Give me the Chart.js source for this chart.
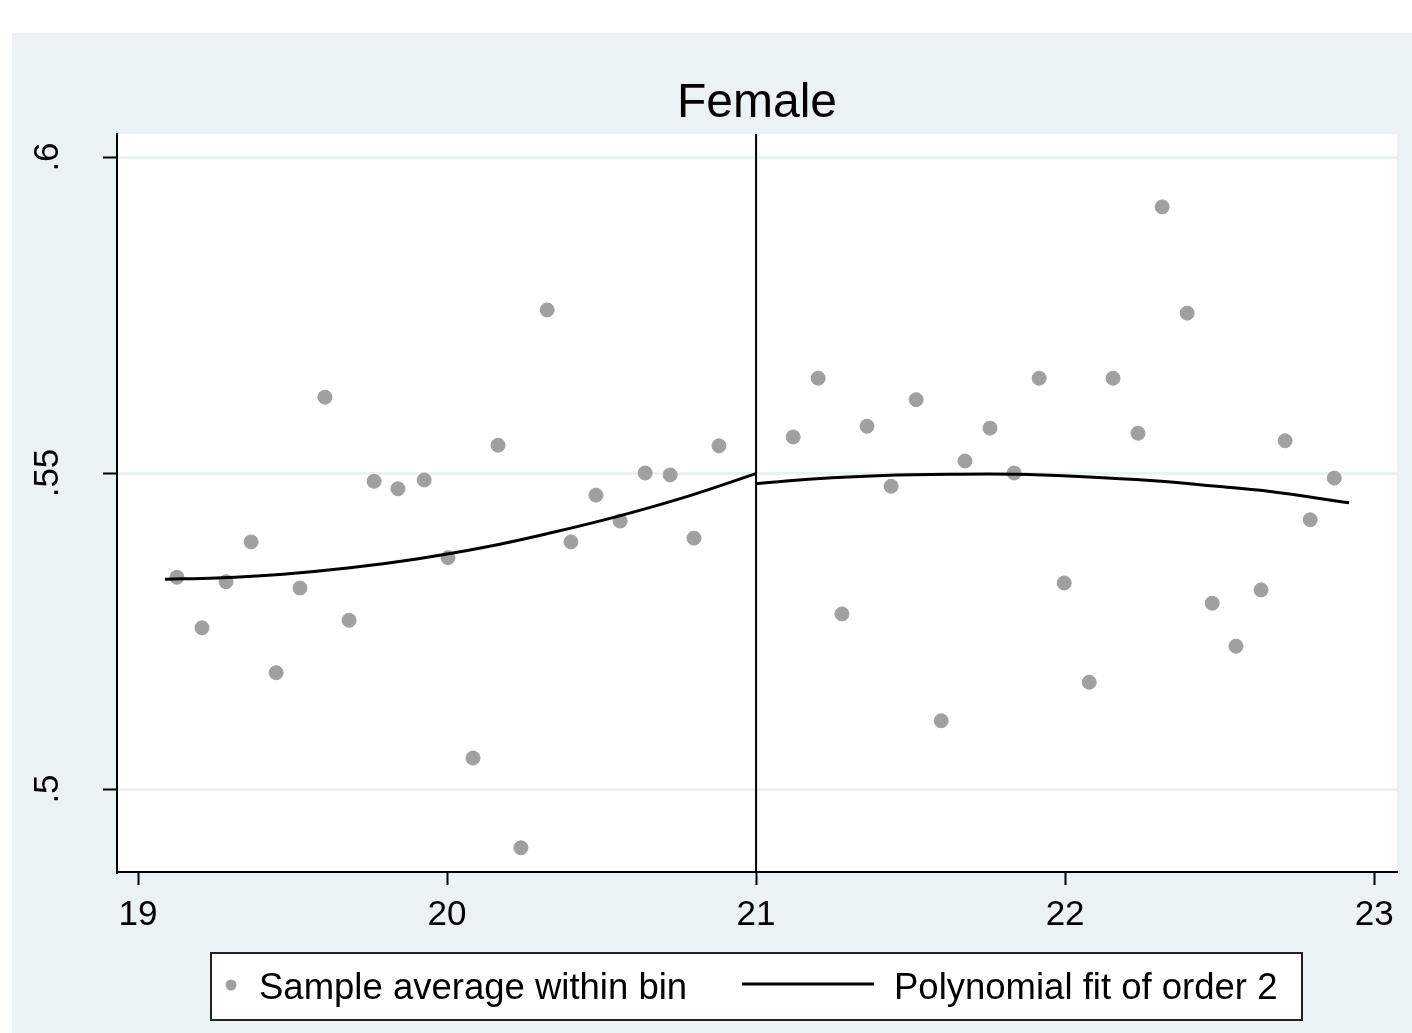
<!DOCTYPE html>
<html>
<head>
  <title>Female</title>
  <script src="https://cdn.jsdelivr.net/npm/chart.js"></script>
  <style>
    html, body { margin: 0; padding: 0; background: #fff; }
  </style>
</head>
<body>
  <canvas id="chart" width="1412" height="1033"></canvas>

  <script>
    // Sample averages within bin, left of the cutoff
    const leftBinX = [19.126, 19.207, 19.285, 19.366, 19.447, 19.524, 19.605, 19.683, 19.764, 19.841, 19.926, 20.003,
                      20.084, 20.165, 20.239, 20.324, 20.401, 20.482, 20.560, 20.641, 20.722, 20.799, 20.880];
    const leftBinY = [0.5335, 0.5255, 0.5328, 0.5391, 0.5184, 0.5318, 0.5620, 0.5267, 0.5487, 0.5475, 0.5489, 0.5366,
                      0.5049, 0.5544, 0.4907, 0.5758, 0.5391, 0.5465, 0.5424, 0.5500, 0.5497, 0.5397, 0.5543];

    // Sample averages within bin, right of the cutoff
    const rightBinX = [21.120, 21.201, 21.278, 21.359, 21.437, 21.518, 21.599, 21.676, 21.757, 21.835, 21.916, 21.997,
                       22.078, 22.155, 22.236, 22.314, 22.395, 22.476, 22.553, 22.634, 22.712, 22.793, 22.871];
    const rightBinY = [0.5557, 0.5650, 0.5277, 0.5574, 0.5479, 0.5616, 0.5108, 0.5519, 0.5571, 0.5500, 0.5650, 0.5326,
                       0.5169, 0.5650, 0.5563, 0.5921, 0.5753, 0.5294, 0.5226, 0.5315, 0.5551, 0.5426, 0.5492];

    // Polynomial fit
    const leftFitX = [19.087, 19.255, 19.470, 19.686, 19.902, 20.117, 20.333, 20.549, 20.765, 21.0];
    const leftFitY = [0.5332, 0.5334, 0.5340, 0.5350, 0.5364, 0.5382, 0.5405, 0.5431, 0.5461, 0.5499];
    const rightFitX = [21.0, 21.196, 21.412, 21.628, 21.844, 22.059, 22.275, 22.491, 22.658, 22.919];
    const rightFitY = [0.5483, 0.5491, 0.5496, 0.5498, 0.5498, 0.5494, 0.5488, 0.5479, 0.5471, 0.5453];

    const cutoff = 21;
    const xTicks = [19, 20, 21, 22, 23];
    const yTicks = [0.5, 0.55, 0.6];
    const yTickLabels = ['.5', '.55', '.6'];
    const xRange = [18.932, 23.074];
    const yRange = [0.48687, 0.60364];
    const titleText = 'Female';

    const FONT = '"Liberation Sans", Arial, sans-serif';
    const BG = '#EAF2F3';
    const MARKER = '#a0a0a0';

    const toPoints = (xs, ys) => xs.map((x, i) => ({ x: x, y: ys[i] }));

    // Stata-like frame, title, rotated y labels and legend box
    const stataFrame = {
      id: 'stataFrame',
      beforeDraw(chart) {
        const ctx = chart.ctx;
        const a = chart.chartArea;
        ctx.save();
        ctx.fillStyle = '#fff';
        ctx.fillRect(0, 0, chart.width, chart.height);
        ctx.fillStyle = BG;
        ctx.fillRect(12, 33, chart.width - 12, chart.height - 33);
        ctx.fillStyle = '#fff';
        ctx.fillRect(a.left, a.top, a.right - a.left, a.bottom - a.top);
        ctx.restore();
      },
      afterDraw(chart) {
        const ctx = chart.ctx;
        const a = chart.chartArea;
        const yScale = chart.scales.y;
        ctx.save();

        // title
        ctx.fillStyle = '#000';
        ctx.font = '48px ' + FONT;
        ctx.textAlign = 'center';
        ctx.textBaseline = 'alphabetic';
        ctx.fillText(titleText, (a.left + a.right) / 2, 117);

        // y tick labels, rotated
        ctx.font = '35px ' + FONT;
        yTicks.forEach((v, i) => {
          ctx.save();
          ctx.translate(58, yScale.getPixelForValue(v));
          ctx.rotate(-Math.PI / 2);
          ctx.textAlign = 'center';
          ctx.fillText(yTickLabels[i], 0, 0);
          ctx.restore();
        });

        // legend
        const ds = chart.data.datasets;
        ctx.fillStyle = '#fff';
        ctx.fillRect(211, 953, 1091, 67);
        ctx.strokeStyle = '#222';
        ctx.lineWidth = 2;
        ctx.strokeRect(211, 953, 1091, 67);

        ctx.fillStyle = MARKER;
        ctx.beginPath();
        ctx.arc(231, 985, 5.5, 0, Math.PI * 2);
        ctx.fill();

        ctx.fillStyle = '#000';
        ctx.font = '36.5px ' + FONT;
        ctx.textAlign = 'left';
        ctx.fillText(ds[3].label, 259, 999);

        ctx.strokeStyle = '#000';
        ctx.lineWidth = 3;
        ctx.beginPath();
        ctx.moveTo(742, 984);
        ctx.lineTo(874, 984);
        ctx.stroke();

        ctx.fillText(ds[0].label, 894, 999);
        ctx.restore();
      }
    };

    new Chart(document.getElementById('chart'), {
      type: 'scatter',
      data: {
        datasets: [
          {
            label: 'Polynomial fit of order 2',
            data: toPoints(leftFitX, leftFitY),
            showLine: true,
            borderColor: '#000',
            borderWidth: 3,
            pointRadius: 0,
            tension: 0.4
          },
          {
            label: 'fit right',
            data: toPoints(rightFitX, rightFitY),
            showLine: true,
            borderColor: '#000',
            borderWidth: 3,
            pointRadius: 0,
            tension: 0.4
          },
          {
            label: 'cutoff',
            data: [{ x: cutoff, y: yRange[0] }, { x: cutoff, y: yRange[1] }],
            showLine: true,
            borderColor: '#000',
            borderWidth: 2,
            pointRadius: 0
          },
          {
            label: 'Sample average within bin',
            data: toPoints(leftBinX.concat(rightBinX), leftBinY.concat(rightBinY)),
            backgroundColor: MARKER,
            borderColor: MARKER,
            borderWidth: 1,
            pointRadius: 7
          }
        ]
      },
      options: {
        responsive: false,
        animation: false,
        devicePixelRatio: 1,
        layout: { padding: { left: 0, top: 134, right: 15, bottom: 0 } },
        plugins: {
          legend: { display: false },
          title: { display: false },
          tooltip: { enabled: false }
        },
        scales: {
          x: {
            type: 'linear',
            min: xRange[0],
            max: xRange[1],
            afterBuildTicks: s => { s.ticks = xTicks.map(v => ({ value: v })); },
            afterFit: s => { s.height = 161; },
            border: { display: true, color: '#000', width: 2 },
            grid: {
              drawOnChartArea: false,
              drawTicks: true,
              tickLength: 13,
              color: '#000',
              tickColor: '#000',
              tickWidth: 2
            },
            ticks: {
              color: '#000',
              padding: 9,
              maxRotation: 0,
              font: { family: FONT, size: 35 },
              callback: v => String(v)
            }
          },
          y: {
            type: 'linear',
            min: yRange[0],
            max: yRange[1],
            afterBuildTicks: s => { s.ticks = yTicks.map(v => ({ value: v })); },
            afterFit: s => { s.width = 117; },
            border: { display: true, color: '#000', width: 2 },
            grid: {
              color: BG,
              lineWidth: 3,
              drawTicks: true,
              tickLength: 14,
              tickColor: '#000',
              tickWidth: 2
            },
            ticks: { display: false }
          }
        }
      },
      plugins: [stataFrame]
    });
  </script>
</body>
</html>
